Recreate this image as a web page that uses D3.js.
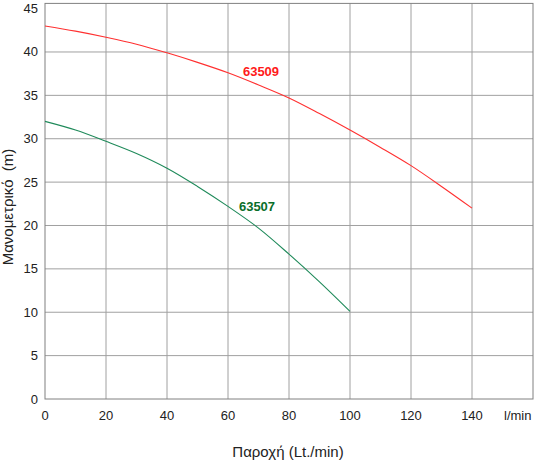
<!DOCTYPE html>
<html>
<head>
<meta charset="utf-8">
<script src="https://cdn.jsdelivr.net/npm/d3@7"></script>
<style>
body { margin: 0; background: #fff; }
text { font-family: "Liberation Sans", Arial, sans-serif; }
</style>
</head>
<body>
<script>
var width = 540, height = 464;

// flow (l/min) and head (m)
var flow09 = [0, 10, 20, 30, 40, 50, 60, 70, 80, 90, 100, 110, 120, 130, 140];
var head09 = [43.0, 42.4, 41.7, 40.9, 39.9, 38.8, 37.6, 36.2, 34.7, 32.9, 31.0, 29.0, 26.9, 24.5, 22.0];
var flow07 = [0, 10, 20, 30, 40, 50, 60, 70, 80, 90, 100];
var head07 = [32.0, 31.0, 29.7, 28.3, 26.6, 24.5, 22.2, 19.7, 16.7, 13.5, 10.1];
var xTicks = [0, 20, 40, 60, 80, 100, 120, 140];
var yTicks = [0, 5, 10, 15, 20, 25, 30, 35, 40, 45];

var x = d3.scaleLinear().domain([0, 160]).range([45, 533]);
var y = d3.scaleLinear().domain([0, 45]).range([399, 8.6]);

var svg = d3.select("body").append("svg")
	.attr("width", width)
	.attr("height", height);

// grid
svg.append("g").selectAll("line.v").data(xTicks.slice(1)).enter()
	.append("line")
	.attr("x1", function(d) { return x(d); })
	.attr("x2", function(d) { return x(d); })
	.attr("y1", y(45.6)).attr("y2", y(0))
	.attr("stroke", "#a0a0a0").attr("stroke-width", 1);

svg.append("g").selectAll("line.h").data(yTicks.slice(1, -1)).enter()
	.append("line")
	.attr("x1", x(0)).attr("x2", x(160))
	.attr("y1", function(d) { return y(d); })
	.attr("y2", function(d) { return y(d); })
	.attr("stroke", "#a0a0a0").attr("stroke-width", 1);

// frame
svg.append("rect")
	.attr("x", x(0)).attr("y", y(45.6))
	.attr("width", x(160) - x(0))
	.attr("height", y(0) - y(45.6))
	.attr("fill", "none")
	.attr("stroke", "#808080").attr("stroke-width", 1);

// tick labels
svg.append("g").selectAll("text").data(xTicks).enter()
	.append("text")
	.attr("x", function(d) { return x(d); })
	.attr("y", 420)
	.attr("text-anchor", "middle")
	.attr("font-size", "13px")
	.attr("fill", "#222")
	.text(function(d) { return d; });

svg.append("text")
	.attr("x", x(155)).attr("y", 420)
	.attr("text-anchor", "middle")
	.attr("font-size", "13px")
	.attr("fill", "#222")
	.text("l/min");

svg.append("g").selectAll("text").data(yTicks).enter()
	.append("text")
	.attr("x", 38)
	.attr("y", function(d) { return y(d) + 4.5; })
	.attr("text-anchor", "end")
	.attr("font-size", "13px")
	.attr("fill", "#222")
	.text(function(d) { return d; });

// axis titles
svg.append("text")
	.attr("x", 288).attr("y", 457)
	.attr("text-anchor", "middle")
	.attr("font-size", "15px")
	.attr("fill", "#222")
	.text("Παροχή (Lt./min)");

svg.append("text")
	.attr("transform", "translate(13,207) rotate(-90)")
	.attr("text-anchor", "middle")
	.attr("font-size", "15px")
	.style("white-space", "pre")
	.attr("fill", "#222")
	.text("Μανομετρικό  (m)");

// curves
var line = d3.line()
	.x(function(d) { return x(d[0]); })
	.y(function(d) { return y(d[1]); })
	.curve(d3.curveCatmullRom);

svg.append("path")
	.datum(d3.zip(flow09, head09))
	.attr("d", line)
	.attr("fill", "none")
	.attr("stroke", "#ff3030").attr("stroke-width", 1.1);

svg.append("path")
	.datum(d3.zip(flow07, head07))
	.attr("d", line)
	.attr("fill", "none")
	.attr("stroke", "#1f8a5a").attr("stroke-width", 1.1);

// curve labels
svg.append("text")
	.attr("x", 261).attr("y", 75.5)
	.attr("text-anchor", "middle")
	.attr("font-size", "13px").attr("font-weight", "bold")
	.attr("fill", "#ff1a1a")
	.text("63509");

svg.append("text")
	.attr("x", 257).attr("y", 210.5)
	.attr("text-anchor", "middle")
	.attr("font-size", "13px").attr("font-weight", "bold")
	.attr("fill", "#0a6e2a")
	.text("63507");
</script>
</body>
</html>
